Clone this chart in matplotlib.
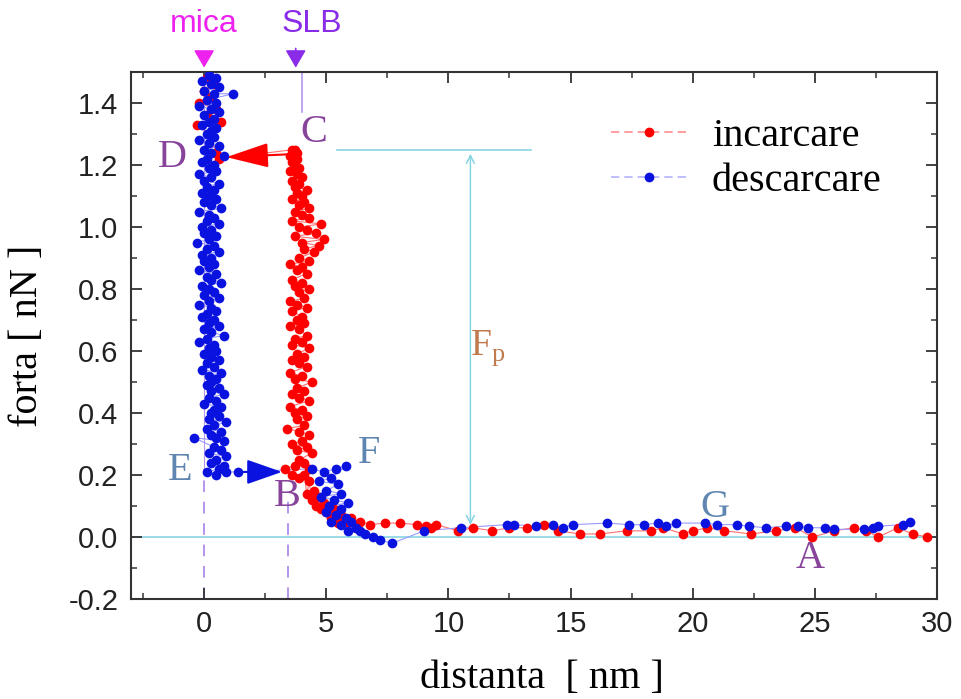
import matplotlib
matplotlib.use("Agg")
import matplotlib.pyplot as plt
from matplotlib.lines import Line2D
from matplotlib.ticker import MultipleLocator

# incarcare (loading): from far away towards the mica surface
load_x = [29.6, 29.0, 28.4, 27.6, 27.1, 26.6, 25.8, 24.9, 24.2, 23.4, 22.4, 21.3,
          20.6, 20.0, 19.6, 18.8, 18.3, 17.3, 16.2, 15.4, 14.5, 13.9, 13.2, 12.5,
          11.8, 11.0, 10.4, 9.5, 9.3, 9.1, 8.7, 8.0, 7.4, 6.8,
          6.4, 6.2, 6.0, 5.8, 5.6, 5.5, 5.3, 5.2, 5.0, 4.9, 4.8, 4.7, 4.6, 4.5,
          4.4, 4.3, 4.2, 4.1, 4.3, 3.9, 3.6, 3.3,
          3.7, 4.1, 3.9, 4.4, 3.8, 4.2, 3.6, 4.0, 4.3, 3.9,
          3.4, 4.1, 3.8, 4.2, 3.7, 4.0, 3.5, 4.3, 3.9, 3.6,
          4.1, 3.8, 4.4, 3.7, 4.0, 3.5, 4.2, 3.9, 3.6, 4.1,
          3.8, 4.3, 3.6, 4.0, 3.7, 4.2, 3.9, 3.5, 4.1, 3.8,
          4.0, 3.6, 4.2, 3.8, 3.5, 4.1, 3.9, 4.3, 3.7, 4.0,
          3.6, 4.2, 3.8, 4.0, 3.5, 4.3, 3.9, 4.5, 4.1, 4.7,
          4.0, 4.9, 3.7, 4.6, 4.2, 3.9, 4.8, 3.6, 4.3, 4.0,
          3.7, 4.3, 3.9, 4.1, 3.6, 4.0, 3.8, 4.2, 3.7, 3.9,
          3.6, 4.0, 3.8, 3.5, 3.9, 3.7, 3.6, 3.8, 3.5, 3.7,
          3.6, 3.8, 3.7,
          0.6, 0.5, 0.2, -0.3, 0.7, 0.1, 0.5, -0.2, 0.3, 0.0, 0.4, 0.1]
load_y = [0.00, 0.01, 0.03, 0.00, 0.02, 0.03, 0.02, 0.00, 0.03, 0.02, 0.01, 0.02,
          0.03, 0.02, 0.01, 0.03, 0.02, 0.02, 0.01, 0.01, 0.02, 0.04, 0.03, 0.03,
          0.02, 0.03, 0.02, 0.04, 0.03, 0.035, 0.04, 0.045, 0.045, 0.04,
          0.05, 0.03, 0.06, 0.05, 0.07, 0.045, 0.09, 0.06, 0.08, 0.11, 0.09, 0.13, 0.10, 0.15,
          0.12, 0.18, 0.14, 0.20, 0.22, 0.19, 0.20, 0.22,
          0.23, 0.24, 0.25, 0.27, 0.28, 0.29, 0.30, 0.31, 0.33, 0.34,
          0.35, 0.36, 0.38, 0.39, 0.40, 0.41, 0.42, 0.44, 0.45, 0.46,
          0.47, 0.48, 0.50, 0.51, 0.52, 0.53, 0.55, 0.56, 0.57, 0.58,
          0.59, 0.61, 0.62, 0.63, 0.64, 0.65, 0.67, 0.68, 0.69, 0.70,
          0.71, 0.73, 0.74, 0.75, 0.76, 0.77, 0.79, 0.80, 0.81, 0.82,
          0.83, 0.85, 0.86, 0.87, 0.88, 0.89, 0.90, 0.92, 0.93, 0.94,
          0.95, 0.96, 0.97, 0.98, 0.99, 1.00, 1.01, 1.02, 1.03, 1.04,
          1.05, 1.06, 1.07, 1.08, 1.09, 1.10, 1.11, 1.12, 1.13, 1.14,
          1.15, 1.16, 1.17, 1.18, 1.19, 1.20, 1.21, 1.22, 1.23, 1.24,
          1.25, 1.24, 1.25,
          1.22, 1.24, 1.30, 1.33, 1.34, 1.36, 1.38, 1.40, 1.42, 1.44, 1.46, 1.48]

# descarcare (unloading): from the mica surface back out
unload_x = [0.2, 0.5, -0.1, 0.3, 0.6, 0.0, 0.4, 1.2, 0.1, 0.5,
            -0.2, 0.3, 0.6, 0.0, 0.4, 0.2, -0.1, 0.5, 0.3, 0.1,
            0.4, -0.2, 0.2, 0.6, 0.0, 0.3, 0.8, 0.1, -0.1, 0.4,
            0.2, 0.5, -0.2, 0.3, 0.0, 0.6, 0.1, 0.4, -0.1, 0.2,
            0.5, 0.0, 0.3, 0.7, -0.2, 0.2, 0.4, 0.1, 0.6, -0.1,
            0.3, 0.0, 0.5, 0.2, -0.3, 0.4, 0.1, 0.6, -0.1, 0.3,
            0.0, 0.4, 0.2, -0.2, 0.5, 0.1, 0.3, 0.7, -0.1, 0.2,
            0.4, 0.0, 0.6, 0.2, -0.2, 0.3, 0.5, 0.1, -0.1, 0.4,
            0.2, 0.6, 0.0, 0.3, 0.8, 0.1, -0.2, 0.4, 0.2, 0.5,
            0.0, 0.3, 0.6, 0.1, 0.4, -0.1, 0.7, 0.2, 0.5, 0.3,
            0.1, 0.6, 0.3, 0.8, 0.2, 0.5, 0.0, 0.7, 0.4, 0.3,
            0.6, 0.2, 0.9, 0.4, 0.1, 0.7, 0.3, 0.5, 0.8, -0.4,
            0.4, 0.7, 0.2, 0.9, 0.5, 0.3, 0.8, 0.6, 0.1, 0.5,
            0.9, 1.4,
            4.4, 4.9, 5.4, 5.8, 5.2, 4.7, 5.5, 5.0, 5.6, 4.8, 5.3, 5.9, 5.1, 5.6,
            5.0, 5.4, 5.8, 5.2, 6.0, 5.6, 6.2, 5.9, 6.4, 6.6, 6.9, 7.2, 7.7,
            9.0, 10.5, 12.4, 12.7, 13.6, 14.3, 14.7, 15.1, 16.5, 17.4, 18.0, 18.6,
            18.9, 19.3, 20.5, 21.0, 21.8, 22.3, 23.0, 23.8, 24.3, 24.7, 25.4, 25.8,
            27.0, 27.4, 27.6, 28.6, 28.9]
unload_y = [1.49, 1.48, 1.47, 1.46, 1.45, 1.44, 1.43, 1.43, 1.41, 1.40,
            1.39, 1.38, 1.37, 1.36, 1.35, 1.34, 1.33, 1.32, 1.31, 1.30,
            1.29, 1.28, 1.27, 1.26, 1.25, 1.24, 1.23, 1.22, 1.21, 1.20,
            1.19, 1.18, 1.17, 1.16, 1.15, 1.14, 1.13, 1.12, 1.11, 1.10,
            1.09, 1.08, 1.07, 1.06, 1.05, 1.04, 1.03, 1.02, 1.01, 1.00,
            0.99, 0.98, 0.97, 0.96, 0.95, 0.94, 0.93, 0.92, 0.91, 0.90,
            0.89, 0.88, 0.87, 0.86, 0.85, 0.84, 0.83, 0.82, 0.81, 0.80,
            0.79, 0.78, 0.77, 0.76, 0.75, 0.74, 0.73, 0.72, 0.71, 0.70,
            0.69, 0.68, 0.67, 0.66, 0.65, 0.64, 0.63, 0.62, 0.61, 0.60,
            0.59, 0.58, 0.57, 0.56, 0.55, 0.54, 0.53, 0.52, 0.51, 0.50,
            0.49, 0.48, 0.47, 0.46, 0.45, 0.44, 0.43, 0.42, 0.41, 0.40,
            0.39, 0.38, 0.37, 0.36, 0.35, 0.34, 0.33, 0.32, 0.31, 0.32,
            0.29, 0.28, 0.27, 0.26, 0.25, 0.24, 0.23, 0.22, 0.21, 0.20,
            0.21, 0.21,
            0.22, 0.21, 0.22, 0.23, 0.19, 0.18, 0.17, 0.15, 0.14, 0.13, 0.12, 0.11, 0.10, 0.09,
            0.08, 0.07, 0.06, 0.05, 0.05, 0.04, 0.03, 0.02, 0.02, 0.01, 0.00, -0.01, -0.02,
            0.02, 0.03, 0.04, 0.04, 0.035, 0.04, 0.03, 0.04, 0.045, 0.04, 0.04, 0.045,
            0.035, 0.045, 0.045, 0.04, 0.04, 0.035, 0.03, 0.035, 0.035, 0.03, 0.03, 0.025,
            0.025, 0.03, 0.035, 0.04, 0.05]

x_ticks = [0, 5, 10, 15, 20, 25, 30]
y_ticks = [-0.2, 0.0, 0.2, 0.4, 0.6, 0.8, 1.0, 1.2, 1.4]

serif = "Liberation Serif"
sans = "Liberation Sans"
purple = "#87449a"
steel = "#5f86b0"
cyan = "#86d4e2"
lilac = "#b595ee"
letter_size = 29

fig = plt.figure(figsize=(9.62, 6.99), dpi=100)
ax = fig.add_axes([0.136, 0.143, 0.838, 0.754])

# reference lines
ax.axhline(0.0, color=cyan, lw=1.2, zorder=1)
ax.plot([0, 0], [-0.2, 0.22], color=lilac, lw=1.4, ls=(0, (6, 5)), zorder=1)
ax.plot([0, 0], [0.22, 1.5], color=lilac, lw=0.8, zorder=1)
ax.plot([3.45, 3.45], [-0.2, 0.12], color=lilac, lw=1.4, ls=(0, (6, 5)), zorder=1)
ax.plot([4.0, 4.0], [1.5, 1.37], color=lilac, lw=1.2, zorder=1)
ax.plot([5.45, 13.4], [1.25, 1.25], color=cyan, lw=1.2, zorder=1)
ax.annotate("", xy=(10.9, 0.03), xytext=(10.9, 1.245),
            arrowprops=dict(arrowstyle="<->", color=cyan, lw=1.1, mutation_scale=14))

# data
ax.plot(load_x, load_y, "-", color="#ff7070", lw=0.8, zorder=2)
ax.plot(load_x, load_y, "o", color="red", ms=7, mec="none", zorder=3)
ax.plot(unload_x, unload_y, "-", color="#9a9aff", lw=0.8, zorder=2)
ax.plot(unload_x, unload_y, "o", color="#0a12e0", ms=7, mec="none", zorder=4)

# jump arrows
ax.annotate("", xy=(0.8, 1.225), xytext=(3.6, 1.235),
            arrowprops=dict(arrowstyle="-|>,head_length=1.2,head_width=0.35",
                            color="red", lw=1.5, mutation_scale=22), zorder=5)
ax.annotate("", xy=(3.3, 0.21), xytext=(1.5, 0.21),
            arrowprops=dict(arrowstyle="-|>,head_length=1.0,head_width=0.35",
                            color="#0a12e0", lw=1.5, mutation_scale=22), zorder=5)

# point labels
ax.text(4.5, 1.305, "C", color=purple, fontsize=letter_size, family=serif, ha="center", va="center")
ax.text(-1.3, 1.225, "D", color=purple, fontsize=letter_size, family=serif, ha="center", va="center")
ax.text(-1.0, 0.215, "E", color=steel, fontsize=letter_size, family=serif, ha="center", va="center")
ax.text(6.75, 0.27, "F", color=steel, fontsize=letter_size, family=serif, ha="center", va="center")
ax.text(3.4, 0.13, "B", color=purple, fontsize=letter_size, family=serif, ha="center", va="center")
ax.text(20.9, 0.095, "G", color=steel, fontsize=letter_size, family=serif, ha="center", va="center")
ax.text(24.8, -0.07, "A", color=purple, fontsize=letter_size, family=serif, ha="center", va="center")
ax.text(11.6, 0.61, r"F$_\mathregular{p}$", color="#c07a4e", fontsize=27, family=serif,
        ha="center", va="center")

# markers above the frame
ax.text(0, 1.655, "mica", color="#ee22ee", fontsize=23, family=sans, ha="center",
        va="center", clip_on=False)
ax.annotate("", xy=(0, 1.505), xytext=(0, 1.575), annotation_clip=False,
            arrowprops=dict(arrowstyle="-|>,head_length=0.6,head_width=0.35",
                            color="#ee22ee", lw=1.2, mutation_scale=18))
ax.text(4.4, 1.655, "SLB", color="#8a2be8", fontsize=23, family=sans, ha="center",
        va="center", clip_on=False)
ax.annotate("", xy=(3.75, 1.505), xytext=(3.75, 1.585), annotation_clip=False,
            arrowprops=dict(arrowstyle="-|>,head_length=0.6,head_width=0.35",
                            color="#8a2be8", lw=1.2, mutation_scale=18))

ax.set_xlim(-3, 30)
ax.set_ylim(-0.2, 1.5)
ax.set_xticks(x_ticks)
ax.set_yticks(y_ticks)
ax.set_yticklabels([f"{v:.1f}" for v in y_ticks])
ax.xaxis.set_minor_locator(MultipleLocator(2.5))
ax.yaxis.set_minor_locator(MultipleLocator(0.1))
ax.tick_params(which="both", direction="in", top=True, right=True, color="#333333")
ax.tick_params(which="major", length=8, width=1.3, labelsize=21)
ax.tick_params(axis="x", which="major", pad=8)
ax.tick_params(axis="y", which="major", pad=9)
ax.tick_params(which="minor", length=4, width=1.1)
for lab in ax.get_xticklabels() + ax.get_yticklabels():
    lab.set_family(sans)
    lab.set_color("#222222")
for sp in ax.spines.values():
    sp.set_linewidth(1.5)
    sp.set_color("#333333")

ax.set_xlabel("distanta  [ nm ]", fontsize=29, family=serif, labelpad=14)
ax.xaxis.set_label_coords(0.51, -0.115, transform=ax.transAxes)
ax.xaxis.label.set_va("top")
ax.set_ylabel("forta [ nN ]", fontsize=29, family=serif, labelpad=16)

handles = [
    Line2D([], [], color="#ff8c8c", ls=(0, (5, 3)), lw=1.2, marker="o", ms=6,
           markerfacecolor="red", markeredgecolor="red"),
    Line2D([], [], color="#b3b3ff", ls=(0, (5, 3)), lw=1.2, marker="o", ms=6,
           markerfacecolor="#0a12e0", markeredgecolor="#0a12e0"),
]
ax.legend(handles, ["incarcare", "descarcare"], loc="upper left",
          bbox_to_anchor=(0.596, 0.913), frameon=False, handlelength=1.85,
          borderpad=0, borderaxespad=0,
          prop={"family": serif, "size": 29}, labelspacing=0.2, handletextpad=0.65)

fig.savefig("out.png", dpi=100)
